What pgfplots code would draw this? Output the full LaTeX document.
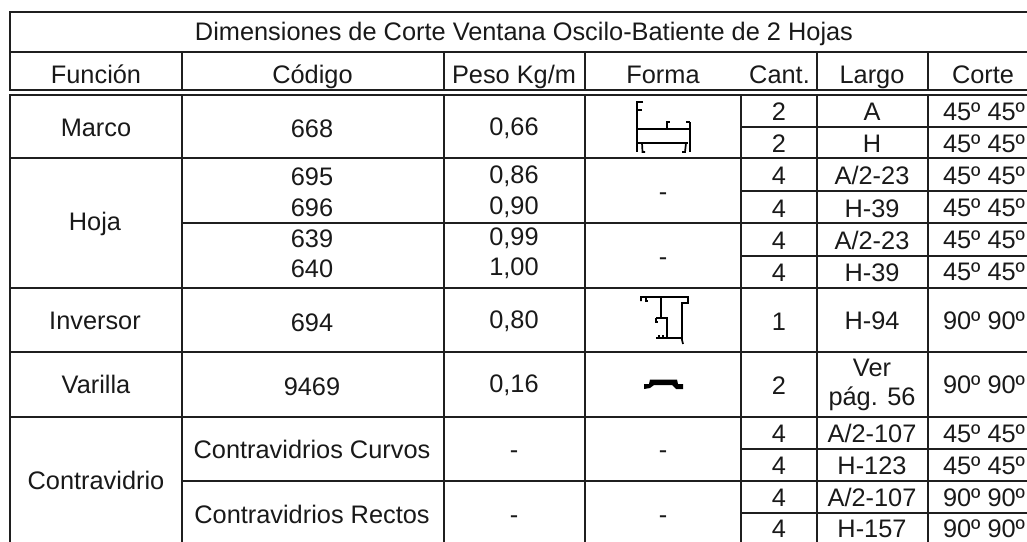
\documentclass[border=0pt]{standalone}
\usepackage{pgfplots}
\usepackage{fontspec}
\setmainfont{Liberation Sans}
\pgfplotsset{compat=1.18}
\newcommand{\hl}[3]{\addplot[tl] coordinates {(#2,#1) (#3,#1)};}
\newcommand{\vl}[3]{\addplot[tl] coordinates {(#1,#2) (#1,#3)};}
\newcommand{\T}[3]{\node[anchor=base,inner sep=0pt,text=black!90] at (axis cs:#1,#2) {\fontsize{25.35}{30}\selectfont #3};}
\begin{document}
\begin{tikzpicture}
\path[use as bounding box] (0,0) rectangle (1027pt,541pt);
\begin{axis}[
  at={(0,0)}, anchor=south west,
  scale only axis, width=1027pt, height=541pt,
  xmin=0, xmax=1027, ymin=0, ymax=541, y dir=reverse,
  axis lines=none, clip=true,
  tl/.style={no markers, line width=2pt, color=black!88, line cap=rect},
  pf/.style={no markers, line width=1.7pt, color=black, line cap=butt},
]
% horizontal rules
\hl{12}{10}{1027}
\hl{52}{10}{1027}
\hl{90}{10}{1027}
\hl{95}{10}{1027}
\hl{127}{741}{1027}
\hl{158}{10}{1027}
\hl{191}{741}{1027}
\hl{223}{182}{1027}
\hl{256}{741}{1027}
\hl{288}{10}{1027}
\hl{352}{10}{1027}
\hl{417}{10}{1027}
\hl{449}{741}{1027}
\hl{481}{182}{1027}
\hl{513}{741}{1027}
% vertical rules
\vl{10}{12}{90}
\vl{10}{95}{541}
\vl{182}{52}{90}
\vl{182}{95}{541}
\vl{444}{52}{90}
\vl{444}{95}{541}
\vl{585}{52}{90}
\vl{585}{95}{541}
\vl{741}{95}{541}
\vl{817}{52}{90}
\vl{817}{95}{541}
\vl{928}{52}{90}
\vl{928}{95}{541}
% profile Marco
\addplot[pf] coordinates {(643,102) (636.7,102) (636.7,152)};
\addplot[pf] coordinates {(642,110) (636.7,110)};
\addplot[pf] coordinates {(636.7,129) (690,129)};
\addplot[pf] coordinates {(690,122) (690,152)};
\addplot[pf] coordinates {(636.7,143) (688,143)};
\addplot[pf] coordinates {(667,129) (667,122) (670,122)};
\addplot[pf] coordinates {(686,122) (690,122)};
\addplot[pf] coordinates {(642,143) (642.5,152) (645,152)};
\addplot[pf] coordinates {(686,143) (685,152) (682,152)};
% profile Inversor
\addplot[pf] coordinates {(641,301) (641,297) (688,297) (688,303) (682,303) (682,340) (683,344)};
\addplot[pf] coordinates {(661,297) (661,318)};
\addplot[pf] coordinates {(656,318) (667,318) (667,338)};
\addplot[pf] coordinates {(656,338) (682,338)};
\addplot[pf] coordinates {(656,318) (656,322) (658,322)};
\addplot[pf] coordinates {(646,297) (646,301) (648,301)};
\addplot[pf] coordinates {(659,338) (659,335)};
\addplot[pf] coordinates {(663,338) (663,335)};
% profile Varilla
\addplot[fill=black, draw=none, no markers] coordinates {(644,384) (649,384) (650,379.5) (677,379.5) (678,384) (683,384) (683,389) (676,389) (672,385) (654,385) (650,388) (644,389)} -- cycle;
% header
\T{524}{40}{Dimensiones de Corte Ventana Oscilo-Batiente de 2 Hojas}
\T{96}{83}{Función}
\T{312.5}{83}{Código}
\T{514}{83}{Peso Kg/m}
\T{663}{83}{Forma}
\T{779.5}{83}{Cant.}
\T{872}{83}{Largo}
\T{983}{83}{Corte}
% col 1
\T{96}{136}{Marco}
\T{95}{230}{Hoja}
\T{95}{329}{Inversor}
\T{96}{393}{Varilla}
\T{96}{489}{Contravidrio}
% col 2
\T{312}{137}{668}
\T{312}{185}{695}
\T{312}{216}{696}
\T{312}{247}{639}
\T{312}{277}{640}
\T{312}{331}{694}
\T{312}{395}{9469}
\T{312}{458}{Contravidrios Curvos}
\T{312}{523}{Contravidrios Rectos}
% col 3
\T{514}{135}{0,66}
\T{514}{183}{0,86}
\T{514}{214}{0,90}
\T{514}{245}{0,99}
\T{514}{275}{1,00}
\T{514}{328}{0,80}
\T{514}{392}{0,16}
\T{514}{458}{-}
\T{514}{523}{-}
% col 4
\T{663}{200}{-}
\T{663}{265}{-}
\T{663}{458}{-}
\T{663}{523}{-}
% cant
\T{779}{120}{2}
\T{779}{152}{2}
\T{779}{184}{4}
\T{779}{217}{4}
\T{779}{249}{4}
\T{779}{281}{4}
\T{779}{330}{1}
\T{779}{394}{2}
\T{779}{442}{4}
\T{779}{474}{4}
\T{779}{506}{4}
\T{779}{537.5}{4}
% largo
\T{872}{120}{A}
\T{872}{152}{H}
\T{872}{184}{A/2-23}
\T{872}{217}{H-39}
\T{872}{249}{A/2-23}
\T{872}{281}{H-39}
\T{872}{329}{H-94}
\T{872}{376}{Ver}
\T{872}{405}{pág. 56}
\T{872}{442}{A/2-107}
\T{872}{474}{H-123}
\T{872}{506}{A/2-107}
\T{872}{537.5}{H-157}
% corte
\T{984}{120}{45º 45º}
\T{984}{152}{45º 45º}
\T{984}{184}{45º 45º}
\T{984}{216}{45º 45º}
\T{984}{248}{45º 45º}
\T{984}{280}{45º 45º}
\T{984}{329}{90º 90º}
\T{984}{393}{90º 90º}
\T{984}{442}{45º 45º}
\T{984}{474}{45º 45º}
\T{984}{506}{90º 90º}
\T{984}{537.5}{90º 90º}
\end{axis}
\end{tikzpicture}
\end{document}
